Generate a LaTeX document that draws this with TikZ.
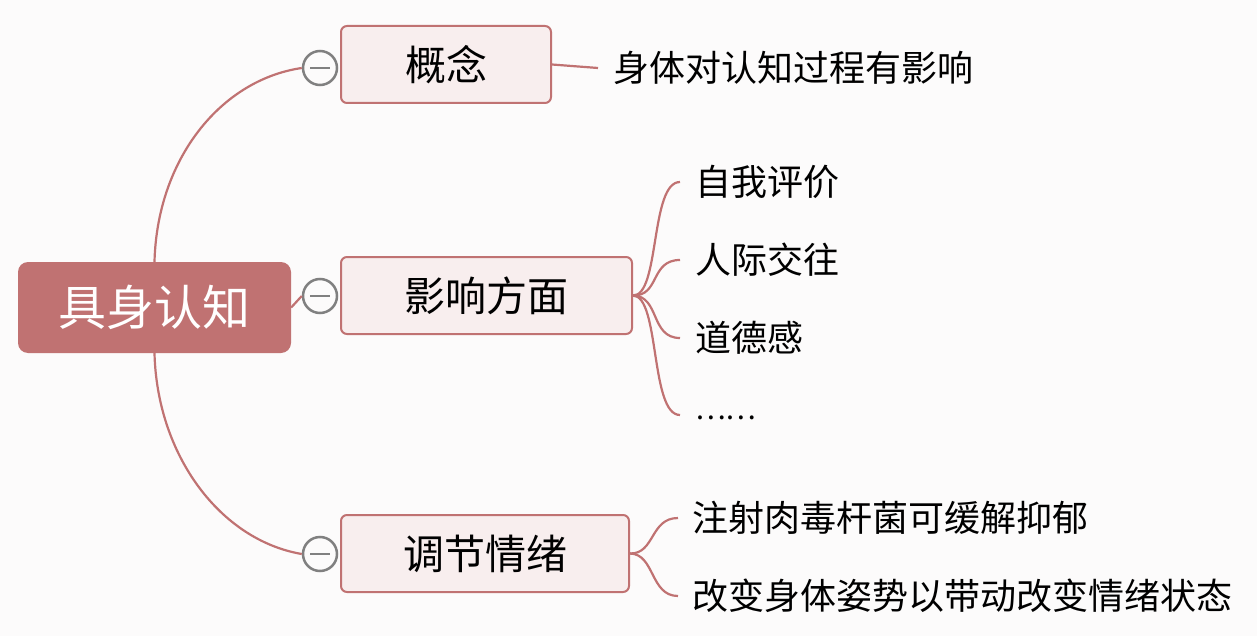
\documentclass[tikz,border=0pt]{standalone}
\usepackage{fontspec}
\setmainfont{Noto Sans CJK SC}
\definecolor{rosy}{RGB}{192,114,114}
\definecolor{pale}{RGB}{248,238,238}
\definecolor{paper}{RGB}{252,251,251}

\begin{document}
\begin{tikzpicture}
[x=1pt, y=-1pt,
  root/.style={fill=rosy, rounded corners=10pt, minimum width=273pt, minimum height=91pt,
    text=white, font=\fontsize{48}{52}\selectfont},
  topic/.style={draw=rosy, line width=2pt, fill=pale, rounded corners=6pt,
    minimum height=77pt, font=\fontsize{41}{44}\selectfont},
  leaf/.style={anchor=west, inner sep=0pt, font=\fontsize{36}{39}\selectfont},
  fold/.style={draw=gray, line width=2.5pt, fill=paper, circle, minimum size=34pt, inner sep=0pt,
    path picture={\draw[gray, line width=2.5pt] ([xshift=-10pt]path picture bounding box.center) -- ([xshift=10pt]path picture bounding box.center);}},
  link/.style={draw=rosy, line width=2.2pt}]

\fill[paper] (0,0) rectangle (1257,636);
\useasboundingbox (0,0) rectangle (1257,636);

% main topic
\node[root] (root) at (154.5,307.5) {具身认知};

% subtopics
\node[topic, minimum width=210pt] (idea) at (446,64.5) {概念};
\node[topic, minimum width=291pt] (effect) at (486.5,295.5) {影响方面};
\node[topic, minimum width=288pt] (mood) at (485,553.5) {调节情绪};

\node[fold] (f1) at (320,68) {};
\node[fold] (f2) at (320,296) {};
\node[fold] (f3) at (320,554) {};

\draw[link] (root.north) .. controls (157,160) and (220,80) .. (f1.west);
\draw[link] (root.east) -- (f2.west);
\draw[link] (root.south) .. controls (157,455) and (220,540) .. (f3.west);

% leaves
\node[leaf] (body) at (613,68) {身体对认知过程有影响};
\draw[link] (idea.east) -- (598,68);

\node[leaf] (self) at (695,182) {自我评价};
\node[leaf] (social) at (695,260) {人际交往};
\node[leaf] (moral) at (695,338) {道德感};
\node[leaf, font=\fontsize{29}{32}\selectfont] (more) at (695,418) {……};
\foreach \yy in {182,260,338,415}
  \draw[link] (effect.east) .. controls (660,296) and (650,\yy) .. (680,\yy);

\node[leaf] (botox) at (692,518) {注射肉毒杆菌可缓解抑郁};
\node[leaf] (pose) at (692,596) {改变身体姿势以带动改变情绪状态};
\foreach \yy in {518,596}
  \draw[link] (mood.east) .. controls (655,554) and (650,\yy) .. (678,\yy);

\end{tikzpicture}
\end{document}
